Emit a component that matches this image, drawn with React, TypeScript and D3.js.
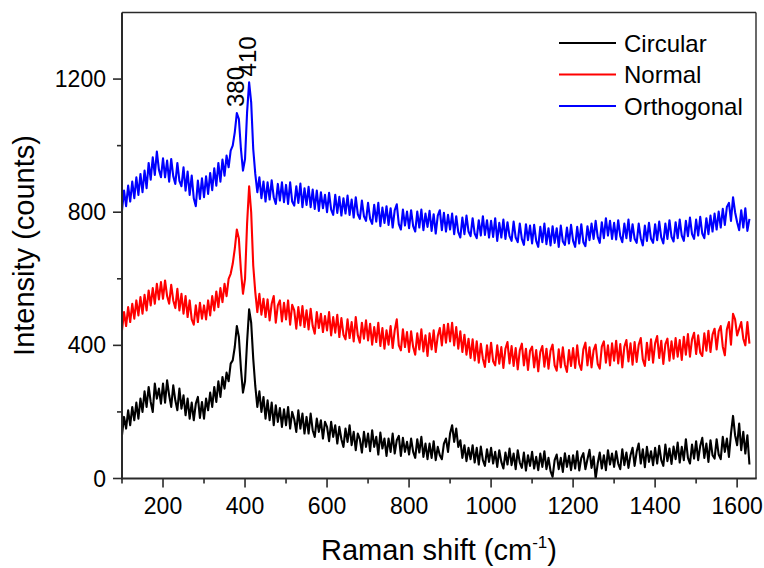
import React from "react";
import * as d3 from "d3";

// Raman shift grid (cm^-1): first point and spacing
const shiftStart = 100;
const shiftStep = 5;

// Intensity (counts), one value per grid point, 100 … 1630 cm^-1
const circular = [
  130, 185, 150, 205, 160, 215, 175, 228, 180, 240,
  200, 262, 215, 275, 230, 200, 285, 240, 270, 225,
  285, 228, 295, 250, 215, 280, 235, 205, 270, 210,
  250, 190, 240, 180, 228, 175, 225, 245, 182, 230,
  180, 240, 205, 258, 215, 275, 230, 292, 245, 305,
  270, 318, 292, 345, 355, 395, 458, 425, 330, 258,
  292, 410, 508, 468, 360, 278, 215, 262, 200, 245,
  180, 235, 175, 228, 160, 220, 170, 212, 155, 208,
  160, 215, 150, 200, 178, 140, 205, 150, 195, 135,
  185, 135, 195, 145, 125, 180, 140, 175, 120, 170,
  155, 112, 170, 125, 160, 105, 155, 118, 95, 150,
  110, 160, 100, 140, 85, 135, 118, 78, 140, 95,
  135, 82, 145, 95, 125, 72, 138, 90, 120, 68,
  120, 80, 135, 75, 115, 128, 68, 122, 80, 110,
  72, 120, 80, 62, 118, 78, 125, 65, 105, 58,
  105, 62, 112, 55, 95, 70, 58, 105, 120, 80,
  135, 160, 110, 150, 95, 115, 62, 100, 52, 92,
  58, 100, 48, 92, 42, 96, 55, 38, 88, 50,
  92, 45, 80, 35, 85, 50, 30, 78, 42, 90,
  40, 75, 28, 85, 48, 32, 78, 24, 70, 38,
  80, 30, 65, 25, 75, 35, 82, 28, 62, 22,
  5, 55, 72, 28, 62, 20, 76, 35, 68, 25,
  70, 30, 82, 24, 62, 76, 28, 58, 86, 32,
  66, 0, 45, 78, 30, 70, 25, 85, 42, 75,
  35, 82, 45, 28, 88, 40, 78, 32, 70, 92,
  38, 80, 105, 45, 88, 34, 95, 50, 82, 40,
  92, 45, 98, 55, 38, 102, 52, 90, 44, 96,
  58, 108, 48, 95, 55, 118, 62, 45, 102, 60,
  112, 55, 98, 122, 62, 105, 50, 115, 70, 60,
  118, 72, 58, 125, 80, 120, 65, 135, 188, 130,
  100, 165, 85, 140, 75, 130, 42,
];

const normal = [
  445, 500, 458, 515, 470, 525, 480, 535, 490, 545,
  495, 552, 505, 565, 520, 572, 525, 585, 538, 590,
  540, 595, 548, 525, 582, 535, 512, 570, 505, 555,
  495, 548, 485, 535, 478, 462, 520, 470, 528, 480,
  520, 478, 535, 490, 548, 505, 562, 515, 572, 530,
  585, 548, 600, 615, 645, 690, 748, 720, 625, 555,
  600, 765, 878, 800, 640, 560, 500, 555, 492, 540,
  485, 538, 475, 525, 548, 468, 520, 535, 472, 528,
  478, 535, 462, 522, 505, 450, 515, 460, 518, 455,
  505, 448, 510, 458, 435, 500, 452, 495, 440, 488,
  445, 500, 430, 485, 438, 492, 425, 482, 432, 418,
  478, 422, 470, 412, 485, 430, 408, 468, 420, 475,
  415, 465, 402, 455, 410, 468, 398, 452, 390, 445,
  402, 458, 392, 445, 478, 400, 385, 448, 395, 440,
  380, 442, 395, 372, 436, 388, 448, 382, 430, 368,
  436, 388, 445, 380, 428, 452, 400, 462, 408, 465,
  412, 468, 400, 455, 390, 442, 380, 432, 372, 420,
  362, 418, 355, 412, 348, 405, 360, 335, 400, 350,
  408, 352, 340, 400, 345, 395, 332, 390, 410, 346,
  398, 338, 392, 328, 385, 405, 340, 390, 326, 384,
  396, 334, 386, 322, 380, 398, 336, 390, 330, 384,
  402, 340, 324, 388, 334, 394, 342, 320, 386, 338,
  392, 332, 400, 344, 326, 388, 408, 340, 394, 334,
  386, 402, 344, 330, 396, 412, 348, 400, 340, 406,
  354, 414, 346, 404, 334, 396, 416, 352, 406, 342,
  410, 350, 402, 422, 358, 338, 408, 356, 418, 348,
  406, 428, 362, 414, 344, 404, 420, 354, 412, 360,
  422, 366, 416, 356, 426, 372, 434, 366, 418, 438,
  374, 430, 378, 368, 436, 384, 444, 380, 432, 450,
  388, 442, 458, 396, 370, 448, 470, 402, 495, 478,
  430, 450, 470, 420, 400, 470, 405,
];

const orthogonal = [
  805, 865, 818, 880, 832, 892, 842, 905, 852, 915,
  860, 925, 872, 948, 898, 965, 912, 982, 928, 905,
  962, 905, 955, 892, 960, 908, 885, 948, 894, 878,
  935, 865, 922, 852, 910, 842, 818, 895, 840, 902,
  845, 908, 855, 918, 866, 932, 880, 948, 892, 958,
  910, 970, 935, 985, 1000, 1040, 1098, 1080, 990, 925,
  960, 1100, 1190, 1130, 990, 915, 860, 905, 842, 892,
  832, 890, 838, 896, 845, 825, 885, 835, 890, 830,
  882, 825, 890, 832, 820, 878, 828, 886, 815, 872,
  822, 876, 815, 868, 810, 865, 804, 860, 812, 852,
  800, 858, 808, 792, 852, 798, 846, 790, 842, 796,
  850, 792, 838, 784, 845, 794, 780, 835, 788, 774,
  828, 780, 765, 822, 772, 828, 758, 814, 768, 818,
  762, 812, 754, 806, 824, 764, 748, 808, 760, 802,
  752, 806, 758, 742, 802, 754, 808, 746, 796, 756,
  804, 744, 794, 736, 790, 806, 746, 798, 742, 792,
  748, 796, 734, 788, 740, 724, 784, 734, 790, 742,
  728, 782, 736, 722, 776, 730, 788, 732, 776, 724,
  774, 726, 782, 714, 768, 724, 778, 720, 770, 728,
  714, 772, 724, 710, 766, 720, 702, 764, 716, 760,
  706, 762, 714, 696, 756, 710, 766, 704, 752, 700,
  758, 708, 752, 696, 760, 712, 702, 754, 706, 762,
  714, 696, 756, 706, 764, 710, 698, 758, 716, 766,
  720, 774, 726, 708, 770, 722, 782, 730, 774, 720,
  768, 718, 776, 728, 710, 766, 722, 778, 714, 764,
  720, 708, 766, 722, 700, 760, 714, 768, 720, 708,
  764, 716, 772, 724, 706, 766, 720, 776, 726, 712,
  770, 722, 778, 730, 714, 774, 728, 784, 734, 720,
  778, 730, 786, 736, 722, 782, 734, 790, 742, 796,
  748, 802, 754, 810, 762, 816, 828, 774, 845, 800,
  770, 746, 806, 754, 812, 744, 780,
];

const seriesNames = ["Circular", "Normal", "Orthogonal"];
const seriesColors = ["#000000", "#ff0000", "#0000ff"];
const seriesValues = [circular, normal, orthogonal];

const xMajorTicks = [200, 400, 600, 800, 1000, 1200, 1400, 1600];
const xMinorTicks = [100, 300, 500, 700, 900, 1100, 1300, 1500];
const yMajorTicks = [0, 400, 800, 1200];
const yMinorTicks = [200, 600, 1000];

// Labelled peaks on the top trace
const peakShifts = [380, 410];

const W = 764;
const H = 568;
const plot = { left: 122, right: 756, top: 12.5, bottom: 478.5 };
const FONT = "'Liberation Sans', Arial, sans-serif";
const AXIS = "#2a2a2a";

export default function App() {
  const x = d3.scaleLinear().domain([100, 1646]).range([plot.left, plot.right]);
  const y = d3.scaleLinear().domain([0, 1400]).range([plot.bottom, plot.top]);

  const line = d3
    .line<number>()
    .x((_, i) => x(shiftStart + i * shiftStep))
    .y((v) => y(v));

  const valueAt = (arr: number[], shift: number) =>
    arr[Math.round((shift - shiftStart) / shiftStep)];

  return (
    <svg
      width={W}
      height={H}
      style={{ position: "absolute", left: 0, top: 0, background: "#fff" }}
      fontFamily={FONT}
    >
      <defs>
        <clipPath id="plot-clip">
          <rect x={plot.left} y={plot.top} width={plot.right - plot.left} height={plot.bottom - plot.top} />
        </clipPath>
      </defs>

      {/* spectra */}
      <g clipPath="url(#plot-clip)">
        {seriesValues.map((vals, k) => (
          <path
            key={seriesNames[k]}
            d={line(vals) || ""}
            fill="none"
            stroke={seriesColors[k]}
            strokeWidth={2.1}
            strokeLinejoin="round"
          />
        ))}
      </g>

      {/* frame */}
      <line x1={plot.left} x2={plot.right} y1={plot.top} y2={plot.top} stroke={AXIS} strokeWidth={1.4} />
      <line x1={plot.right} x2={plot.right} y1={plot.top} y2={plot.bottom} stroke={AXIS} strokeWidth={1.4} />
      <line x1={plot.left} x2={plot.left} y1={plot.top} y2={plot.bottom + 1} stroke={AXIS} strokeWidth={2} />
      <line x1={plot.left - 1} x2={plot.right + 0.7} y1={plot.bottom} y2={plot.bottom} stroke={AXIS} strokeWidth={2} />

      {/* x ticks */}
      {xMajorTicks.map((t) => (
        <g key={"xM" + t}>
          <line x1={x(t)} x2={x(t)} y1={plot.bottom} y2={plot.bottom + 9} stroke={AXIS} strokeWidth={1.6} />
          <text x={x(t)} y={plot.bottom + 35} textAnchor="middle" fontSize={23} fill="#000">
            {t}
          </text>
        </g>
      ))}
      {xMinorTicks.map((t) => (
        <line key={"xm" + t} x1={x(t)} x2={x(t)} y1={plot.bottom} y2={plot.bottom + 5} stroke={AXIS} strokeWidth={1.6} />
      ))}

      {/* y ticks */}
      {yMajorTicks.map((t) => (
        <g key={"yM" + t}>
          <line x1={plot.left - 9} x2={plot.left} y1={y(t)} y2={y(t)} stroke={AXIS} strokeWidth={1.6} />
          <text x={plot.left - 16} y={y(t) + 8} textAnchor="end" fontSize={23} fill="#000">
            {t}
          </text>
        </g>
      ))}
      {yMinorTicks.map((t) => (
        <line key={"ym" + t} x1={plot.left - 5} x2={plot.left} y1={y(t)} y2={y(t)} stroke={AXIS} strokeWidth={1.6} />
      ))}

      {/* axis titles */}
      <text x={439} y={560} textAnchor="middle" fontSize={29} fill="#000">
        Raman shift (cm
        <tspan fontSize={17} dy={-12}>-1</tspan>
        <tspan dy={12}>)</tspan>
      </text>
      <text
        transform={`translate(34, ${(plot.top + plot.bottom) / 2}) rotate(-90)`}
        textAnchor="middle"
        fontSize={29}
        fill="#000"
      >
        Intensity (counts)
      </text>

      {/* peak labels */}
      {peakShifts.map((s) => {
        const px = x(s) + 7;
        const py = y(valueAt(orthogonal, s)) - 6;
        return (
          <text key={"pk" + s} transform={`translate(${px}, ${py}) rotate(-90)`} fontSize={24} fill="#000">
            {s}
          </text>
        );
      })}

      {/* legend */}
      {seriesNames.map((name, k) => {
        const ly = 43 + k * 31.5;
        return (
          <g key={"lg" + name}>
            <line x1={559} x2={616} y1={ly} y2={ly} stroke={seriesColors[k]} strokeWidth={2} />
            <text x={624} y={ly + 8.5} fontSize={24} fill="#000">
              {name}
            </text>
          </g>
        );
      })}
    </svg>
  );
}
